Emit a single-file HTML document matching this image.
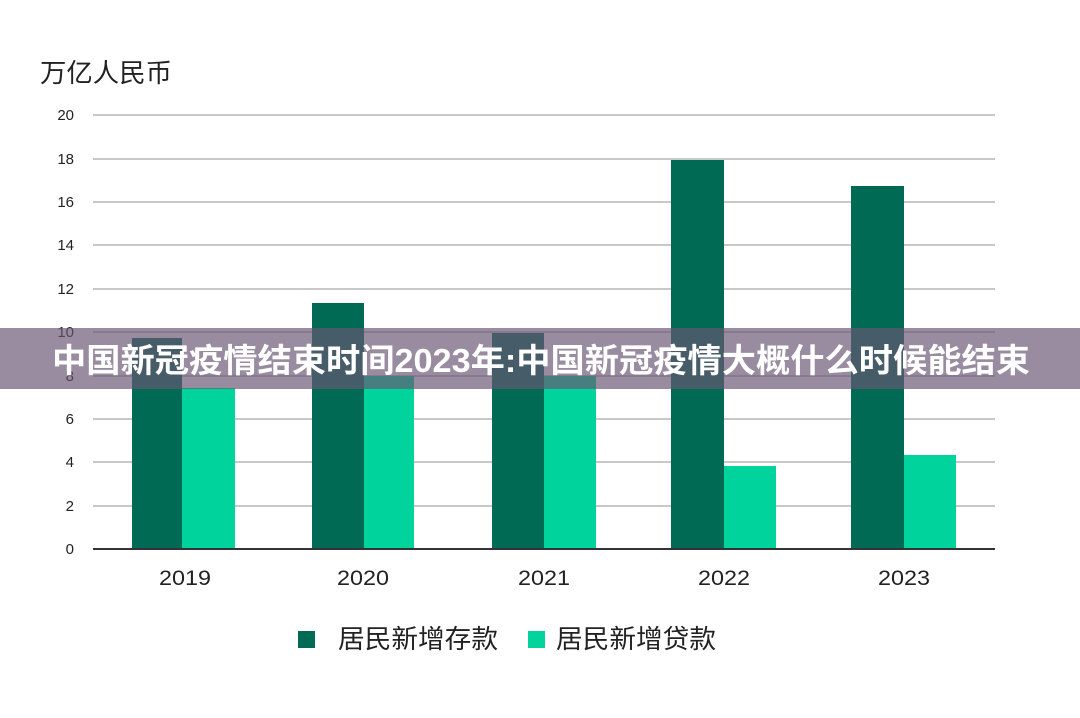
<!DOCTYPE html>
<html><head><meta charset="utf-8"><style>
body{margin:0;width:1080px;height:718px;background:#fff;overflow:hidden;font-family:"Liberation Sans","Noto Sans CJK SC",sans-serif;}
</style></head><body>
<svg width="1080" height="718" xmlns="http://www.w3.org/2000/svg" style="position:absolute;left:0;top:0">
<text x="40" y="82" font-size="26" fill="#222" textLength="132" lengthAdjust="spacingAndGlyphs" font-family="Liberation Sans,Noto Sans CJK SC,sans-serif">万亿人民币</text>
<g stroke="#c8c8c8" stroke-width="2">
<line x1="93" x2="995" y1="115" y2="115"/><line x1="93" x2="995" y1="159" y2="159"/>
<line x1="93" x2="995" y1="202" y2="202"/><line x1="93" x2="995" y1="245" y2="245"/>
<line x1="93" x2="995" y1="289" y2="289"/><line x1="93" x2="995" y1="332" y2="332"/>
<line x1="93" x2="995" y1="376" y2="376"/><line x1="93" x2="995" y1="419" y2="419"/>
<line x1="93" x2="995" y1="462" y2="462"/><line x1="93" x2="995" y1="506" y2="506"/>
</g>
<g font-size="15" fill="#222" text-anchor="end" font-family="Liberation Sans,sans-serif">
<text x="74" y="120">20</text><text x="74" y="164">18</text><text x="74" y="207">16</text>
<text x="74" y="250">14</text><text x="74" y="294">12</text><text x="74" y="337">10</text>
<text x="74" y="381">8</text><text x="74" y="424">6</text><text x="74" y="467">4</text>
<text x="74" y="511">2</text><text x="74" y="554">0</text>
</g>
<g fill="#006a55">
<rect x="132" y="338" width="50" height="211"/><rect x="312" y="303" width="52" height="246"/>
<rect x="492" y="333" width="52" height="216"/><rect x="671" y="160" width="53" height="389"/>
<rect x="851" y="186" width="53" height="363"/>
</g>
<g fill="#00d39b">
<rect x="182" y="388" width="53" height="161"/><rect x="364" y="376" width="50" height="173"/>
<rect x="544" y="376" width="52" height="173"/><rect x="724" y="466" width="52" height="83"/>
<rect x="904" y="455" width="52" height="94"/>
</g>
<line x1="93" x2="995" y1="549" y2="549" stroke="#333" stroke-width="2"/>
<g font-size="21" fill="#222" font-family="Liberation Sans,sans-serif">
<text x="159" y="585" textLength="52" lengthAdjust="spacingAndGlyphs">2019</text><text x="337" y="585" textLength="52" lengthAdjust="spacingAndGlyphs">2020</text><text x="518" y="585" textLength="52" lengthAdjust="spacingAndGlyphs">2021</text>
<text x="698" y="585" textLength="52" lengthAdjust="spacingAndGlyphs">2022</text><text x="878" y="585" textLength="52" lengthAdjust="spacingAndGlyphs">2023</text>
</g>
<rect x="298" y="631" width="17" height="17" fill="#006a55"/>
<text x="338" y="648" font-size="26" fill="#222" textLength="160" lengthAdjust="spacingAndGlyphs" font-family="Liberation Sans,Noto Sans CJK SC,sans-serif">居民新增存款</text>
<rect x="528" y="631" width="17" height="17" fill="#00d39b"/>
<text x="556" y="648" font-size="26" fill="#222" textLength="160" lengthAdjust="spacingAndGlyphs" font-family="Liberation Sans,Noto Sans CJK SC,sans-serif">居民新增贷款</text>
<rect x="0" y="328" width="1080" height="61" fill="rgba(105,85,115,0.68)"/>
<text x="52" y="372" font-size="33" font-weight="bold" fill="#fff" textLength="978" lengthAdjust="spacingAndGlyphs" font-family="Liberation Sans,Noto Sans CJK SC,sans-serif">中国新冠疫情结束时间2023年:中国新冠疫情大概什么时候能结束</text>
</svg>
</body></html>
